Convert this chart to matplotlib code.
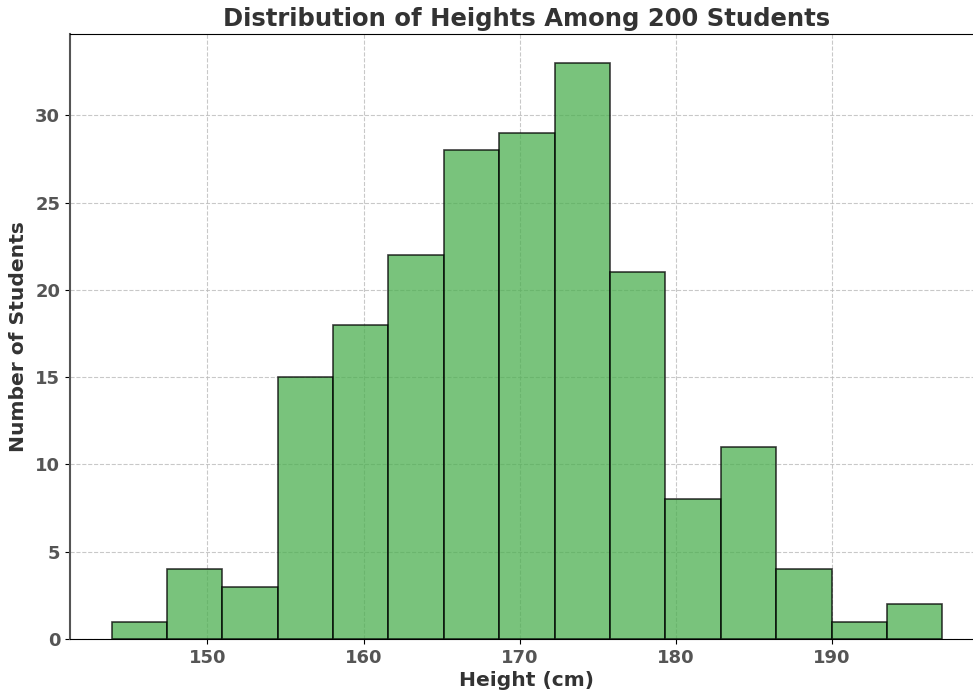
import numpy as np
import matplotlib.pyplot as plt

# histogram counts per bin (200 students)
counts = [1, 4, 3, 15, 18, 22, 28, 29, 33, 21, 8, 11, 4, 1, 2]
height_min = 143.85
height_max = 197.1

edges = np.linspace(height_min, height_max, len(counts) + 1)
widths = np.diff(edges)

fig = plt.figure(figsize=(9.73, 6.93), dpi=100)
ax = fig.add_axes([0.0719, 0.0779, 0.9394, 0.873])

ax.bar(edges[:-1], counts, width=widths, align='edge', color='#4CAF50',
       edgecolor='black', linewidth=1.2, alpha=0.75, zorder=2)

ax.set_xlim(edges[0] - 0.05 * (edges[-1] - edges[0]), edges[-1] + 0.05 * (edges[-1] - edges[0]))
ax.set_ylim(0, max(counts) * 1.05)

ax.set_title('Distribution of Heights Among 200 Students', fontsize=17.5,
             fontweight='bold', color='#333333', pad=6)
ax.set_xlabel('Height (cm)', fontsize=14.6, fontweight='bold', color='#333333', labelpad=3)
ax.set_ylabel('Number of Students', fontsize=14.6, fontweight='bold', color='#333333', labelpad=5)

ax.grid(True, linestyle='--', color='#bbbbbb', linewidth=0.8, alpha=0.8, zorder=0)
ax.set_axisbelow(True)

for lab in ax.get_xticklabels() + ax.get_yticklabels():
    lab.set_fontweight('bold')
ax.tick_params(axis='both', labelsize=13, labelcolor='#555555')
ax.spines['left'].set_color('#555555')
ax.spines['left'].set_linewidth(1.5)

fig.savefig('out.png', dpi=100)
